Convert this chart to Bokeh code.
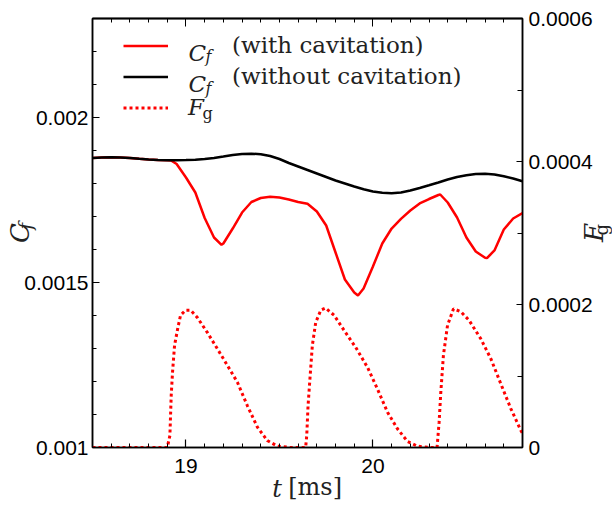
from bokeh.plotting import figure
from bokeh.models import (Range1d, LinearAxis, FixedTicker, CustomJSTickFormatter,
                          Legend, LegendItem, Label, Title)
from bokeh.embed import file_html
from bokeh.resources import INLINE

# ---------------- data ----------------
t_nocav = [18.50, 18.55, 18.60, 18.65, 18.70, 18.75, 18.80, 18.85, 18.90, 18.95,
           19.00, 19.05, 19.10, 19.15, 19.20, 19.25, 19.30, 19.35, 19.40, 19.45,
           19.50, 19.55, 19.60, 19.65, 19.70, 19.75, 19.80, 19.85, 19.90, 19.95,
           20.00, 20.05, 20.10, 20.15, 20.20, 20.25, 20.30, 20.35, 20.40, 20.45,
           20.50, 20.55, 20.60, 20.65, 20.70, 20.75, 20.80]
cf_nocav = [0.0018773, 0.0018788, 0.0018794, 0.0018788, 0.0018773, 0.0018748, 0.0018727,
            0.0018712, 0.0018703, 0.0018703, 0.0018709, 0.0018721, 0.0018739, 0.0018773,
            0.0018818, 0.0018864, 0.0018894, 0.0018903, 0.0018885, 0.0018833, 0.0018742,
            0.0018621, 0.0018515, 0.0018409, 0.0018303, 0.0018197, 0.0018091, 0.0018000,
            0.0017909, 0.0017824, 0.0017758, 0.0017718, 0.0017706, 0.0017727, 0.0017788,
            0.0017864, 0.0017945, 0.0018030, 0.0018121, 0.0018197, 0.0018248, 0.0018288,
            0.0018294, 0.0018273, 0.0018218, 0.0018152, 0.0018070]

t_cav = [18.50, 18.55, 18.60, 18.65, 18.70, 18.75, 18.80, 18.85, 18.90, 18.92,
         18.95, 19.00, 19.05, 19.10, 19.15, 19.19, 19.20, 19.25, 19.30, 19.35,
         19.40, 19.45, 19.50, 19.55, 19.60, 19.65, 19.70, 19.75, 19.80, 19.85,
         19.90, 19.92, 19.95, 20.00, 20.05, 20.10, 20.15, 20.20, 20.25, 20.30,
         20.35, 20.36, 20.40, 20.45, 20.50, 20.55, 20.60, 20.61, 20.65, 20.70,
         20.75, 20.80]
cf_cav = [0.0018773, 0.0018788, 0.0018794, 0.0018788, 0.0018773, 0.0018748, 0.0018727,
          0.0018712, 0.0018703, 0.0018700, 0.0018591, 0.0018182, 0.0017727, 0.0016955,
          0.0016364, 0.0016142, 0.0016182, 0.0016636, 0.0017121, 0.0017439, 0.0017561,
          0.0017597, 0.0017576, 0.0017515, 0.0017439, 0.0017385, 0.0017152, 0.0016727,
          0.0015909, 0.0015091, 0.0014697, 0.0014606, 0.0014818, 0.0015485, 0.0016182,
          0.0016636, 0.0016930, 0.0017182, 0.0017394, 0.0017530, 0.0017652, 0.0017667,
          0.0017424, 0.0016970, 0.0016364, 0.0015939, 0.0015748, 0.0015742, 0.0015970,
          0.0016606, 0.0016939, 0.0017100]

t_fg = [18.50, 18.90, 18.914, 18.921, 18.928, 18.939, 18.957, 18.971, 18.998, 19.025,
        19.060, 19.114, 19.168, 19.221, 19.275, 19.328, 19.382, 19.435, 19.489, 19.560,
        19.640, 19.646, 19.653, 19.663, 19.676, 19.694, 19.721, 19.747, 19.792, 19.845,
        19.908, 19.971, 20.024, 20.078, 20.131, 20.185, 20.238, 20.300, 20.343, 20.354,
        20.363, 20.377, 20.399, 20.431, 20.470, 20.514, 20.577, 20.631, 20.684, 20.738,
        20.791, 20.80]
fg = [0.0, 0.0, 0.0000168, 0.0000727, 0.000105, 0.000143, 0.000168, 0.000185, 0.000192,
      0.000192, 0.000182, 0.000161, 0.000138, 0.000115, 0.0000913, 0.0000587, 0.0000284,
      0.0000098, 0.0000018, 0.0, 0.0, 0.0000168, 0.0000587, 0.0000961, 0.000143, 0.000175,
      0.000192, 0.000195, 0.000185, 0.000164, 0.000140, 0.000112, 0.000082, 0.0000494,
      0.0000262, 0.0000084, 0.0000018, 0.0, 0.0, 0.0000354, 0.0000773, 0.000129, 0.000171,
      0.000194, 0.000190, 0.000178, 0.000152, 0.000124, 0.0000891, 0.0000541, 0.0000238,
      0.000020]

x_major = [19, 20]
x_minor = [18.6, 18.7, 18.8, 18.9, 19.1, 19.2, 19.3, 19.4, 19.5, 19.6, 19.7, 19.8, 19.9,
           20.1, 20.2, 20.3, 20.4, 20.5, 20.6, 20.7]
cf_major = [0.001, 0.0015, 0.002]
cf_minor = [0.0011, 0.0012, 0.0013, 0.0014, 0.0016, 0.0017, 0.0018, 0.0019, 0.0021, 0.0022]
fg_major = [0.0, 0.0002, 0.0004, 0.0006]
fg_minor = [0.0001, 0.0003, 0.0005]

legend_texts = ["(with cavitation)", "(without cavitation)"]
NB = "\u00a0"

# ---------------- figure ----------------
p = figure(frame_width=430, frame_height=429,
           x_range=Range1d(18.5, 20.8), y_range=Range1d(0.001, 0.0023),
           output_backend="svg", toolbar_location=None,
           min_border_left=92, min_border_right=90, min_border_top=18, min_border_bottom=64)
p.extra_y_ranges = {"fg": Range1d(0.0, 0.0006)}
p.grid.visible = False
p.background_fill_color = "white"
p.border_fill_color = "white"
p.outline_line_color = "black"
p.outline_line_width = 1.5

fmt = CustomJSTickFormatter(code="return parseFloat(tick.toPrecision(6)).toString();")
TICK_FONT = "Liberation Sans"
SERIF = "DejaVu Serif"
TXT = "#222222"


def style_axis(ax, standoff, maj=7, mnr=4):
    ax.axis_line_color = "black"
    ax.axis_line_width = 1.5
    ax.major_tick_in = maj
    ax.major_tick_out = 0
    ax.minor_tick_in = mnr
    ax.minor_tick_out = 0
    ax.major_tick_line_width = 1.2
    ax.minor_tick_line_width = 1.0
    ax.major_label_standoff = standoff
    ax.major_label_text_font = TICK_FONT
    ax.major_label_text_font_size = "21px"
    ax.major_label_text_color = "black"
    ax.formatter = fmt


xa = p.xaxis[0]
xa.ticker = FixedTicker(ticks=x_major, minor_ticks=x_minor)
style_axis(xa, 11, maj=8)

ya = p.yaxis[0]
ya.ticker = FixedTicker(ticks=cf_major, minor_ticks=cf_minor)
style_axis(ya, 4)

ra = LinearAxis(y_range_name="fg", ticker=FixedTicker(ticks=fg_major, minor_ticks=fg_minor))
style_axis(ra, 6, maj=6, mnr=5)
p.add_layout(ra, "right")

# top frame ticks (no labels)
for ticks, length in ((x_minor, 4), (x_major, 8)):
    ta = LinearAxis(ticker=FixedTicker(ticks=[], minor_ticks=ticks))
    style_axis(ta, 0, maj=0, mnr=length)
    p.add_layout(ta, "above")


# axis titles drawn as axis labels of tick-less helper axes
def title_axis(side, text, size, italic, standoff):
    ax = LinearAxis(ticker=FixedTicker(ticks=[]), axis_label=text,
                    axis_label_standoff=standoff, axis_label_text_font=SERIF,
                    axis_label_text_font_size=size,
                    axis_label_text_font_style="italic" if italic else "normal",
                    axis_label_text_color=TXT, axis_line_color=None,
                    major_tick_in=0, major_tick_out=0, minor_tick_in=0, minor_tick_out=0,
                    major_label_standoff=0)
    p.add_layout(ax, side)


def sub_title(text, size, italic, offset, standoff):
    p.add_layout(Title(text=text, align="left", vertical_align="bottom", offset=offset,
                       standoff=standoff, text_font=SERIF, text_font_size=size,
                       text_font_style="italic" if italic else "normal",
                       text_color=TXT), "left")


title_axis("left", "C", "26px", True, -13)
sub_title("f", "18px", True, 218, -68)
sub_title("g", "18px", False, 212, -1220)
title_axis("left", "F", "26px", True, -607)
title_axis("below", NB * 2 + "[ms]", "24px", False, -3)
title_axis("below", "t" + NB * 8, "24px", True, -29)

# ---------------- lines ----------------
r_red = p.line(t_cav, cf_cav, line_color="#ff0000", line_width=2.5)
r_black = p.line(t_nocav, cf_nocav, line_color="black", line_width=2.5)
r_fg = p.line(t_fg, fg, line_color="#ff0000", line_width=3, line_dash="3 3",
              y_range_name="fg")

# ---------------- legend ----------------
legend1 = Legend(items=[LegendItem(label=legend_texts[0], renderers=[r_red]),
                        LegendItem(label=legend_texts[1], renderers=[r_black])],
                 location=(31, 355.5), orientation="vertical", padding=0, spacing=0, margin=0,
                 glyph_width=45, glyph_height=31, label_height=31, label_standoff=64,
                 label_text_font=SERIF, label_text_font_size="23px",
                 label_text_color=TXT, background_fill_alpha=0, border_line_color=None)
p.add_layout(legend1)
legend2 = Legend(items=[LegendItem(label="F", renderers=[r_fg])],
                 location=(31, 324.5), orientation="vertical", padding=0, spacing=0, margin=0,
                 glyph_width=45, glyph_height=31, label_height=31, label_standoff=20,
                 label_text_font=SERIF, label_text_font_size="23px",
                 label_text_font_style="italic", label_text_baseline="alphabetic",
                 label_text_color=TXT, background_fill_alpha=0, border_line_color=None)
p.add_layout(legend2)


def lab(x, y, text, size, italic=True):
    p.add_layout(Label(x=x, y=y, x_units="screen", y_units="screen", text=text,
                       text_font=SERIF, text_font_size=size,
                       text_font_style="italic" if italic else "normal",
                       text_color=TXT, text_align="left", text_baseline="alphabetic"))


lab(96, 394.7, "C", "23px")
lab(113, 390.7, "f", "16px")
lab(96, 363.5, "C", "23px")
lab(113, 359.5, "f", "16px")
lab(110, 334, "g", "16px", italic=False)

open("out.html", "w").write(file_html(p, INLINE))
